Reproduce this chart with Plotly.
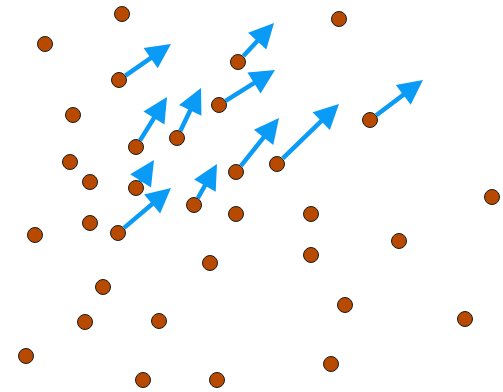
import plotly.graph_objects as go

# scattered points (x, y in chart units; y measured downward from top)
pts_x = [122, 45, 339, 119, 238, 219, 73, 136, 177, 370, 70, 90, 136, 236, 277, 194,
         118, 90, 35, 236, 311, 492, 399, 210, 311, 103, 345, 85, 159, 465, 26, 331, 143, 217]
pts_y = [14, 44, 19, 80, 62, 105, 115, 147, 138, 120, 162, 182, 188, 172, 164, 205,
         233, 223, 235, 214, 214, 197, 241, 263, 255, 287, 305, 322, 321, 319, 356, 364, 380, 380]

# vectors: start and end points
arr_x0 = [119, 238, 219, 136, 177, 370, 136, 236, 277, 194, 118]
arr_y0 = [80, 62, 105, 147, 138, 120, 188, 172, 164, 205, 233]
arr_x1 = [171, 274, 275, 167, 201, 423, 154, 279, 339, 217, 171]
arr_y1 = [44, 23, 70, 97, 88, 80, 160, 118, 104, 164, 188]

fig = go.Figure()

annotations = []
for x0, y0, x1, y1 in zip(arr_x0, arr_y0, arr_x1, arr_y1):
    annotations.append(dict(
        x=x1, y=y1, ax=x0, ay=y0, xref="x", yref="y", axref="x", ayref="y",
        showarrow=True, arrowhead=2, arrowsize=1.1, arrowwidth=4.5,
        arrowcolor="#0A9BF7", text="", standoff=0, startstandoff=6,
    ))

fig.add_trace(go.Scatter(
    x=pts_x, y=pts_y, mode="markers",
    marker=dict(size=15, color="#B84A00", line=dict(color="#1a1a1a", width=1)),
    hoverinfo="skip", showlegend=False,
))

fig.update_layout(
    width=503, height=392,
    margin=dict(l=0, r=0, t=0, b=0),
    paper_bgcolor="white", plot_bgcolor="white",
    xaxis=dict(range=[0, 503], visible=False, fixedrange=True),
    yaxis=dict(range=[392, 0], visible=False, fixedrange=True),
    annotations=annotations,
    showlegend=False,
)

fig.write_html("out.html", config={"displayModeBar": False},
               post_script="document.body.style.margin='0';document.body.style.overflow='hidden';")
